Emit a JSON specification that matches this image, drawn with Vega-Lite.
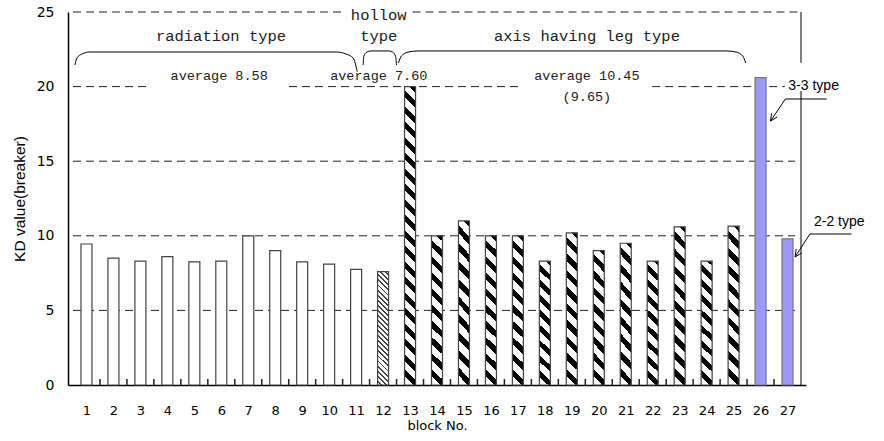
{
  "$schema": "https://vega.github.io/schema/vega-lite/v6.json",
  "width": 738,
  "height": 373,
  "autosize": {"type": "none"},
  "padding": {"left": 68, "top": 12, "right": 78, "bottom": 56},
  "background": "white",
  "config": {"view": {"stroke": null}},
  "datasets": {
    "bars": [
      {"block": 1, "kd": 9.45, "type": "radiation"},
      {"block": 2, "kd": 8.5, "type": "radiation"},
      {"block": 3, "kd": 8.3, "type": "radiation"},
      {"block": 4, "kd": 8.6, "type": "radiation"},
      {"block": 5, "kd": 8.25, "type": "radiation"},
      {"block": 6, "kd": 8.3, "type": "radiation"},
      {"block": 7, "kd": 10.0, "type": "radiation"},
      {"block": 8, "kd": 9.0, "type": "radiation"},
      {"block": 9, "kd": 8.25, "type": "radiation"},
      {"block": 10, "kd": 8.1, "type": "radiation"},
      {"block": 11, "kd": 7.75, "type": "radiation"},
      {"block": 12, "kd": 7.6, "type": "hollow"},
      {"block": 13, "kd": 20.0, "type": "axis"},
      {"block": 14, "kd": 10.0, "type": "axis"},
      {"block": 15, "kd": 11.0, "type": "axis"},
      {"block": 16, "kd": 10.0, "type": "axis"},
      {"block": 17, "kd": 10.0, "type": "axis"},
      {"block": 18, "kd": 8.3, "type": "axis"},
      {"block": 19, "kd": 10.2, "type": "axis"},
      {"block": 20, "kd": 9.0, "type": "axis"},
      {"block": 21, "kd": 9.5, "type": "axis"},
      {"block": 22, "kd": 8.3, "type": "axis"},
      {"block": 23, "kd": 10.6, "type": "axis"},
      {"block": 24, "kd": 8.3, "type": "axis"},
      {"block": 25, "kd": 10.65, "type": "axis"},
      {"block": 26, "kd": 20.6, "type": "3-3"},
      {"block": 27, "kd": 9.8, "type": "2-2"}
    ],
    "xticklines": [
      {"block": 1.5, "kd": 0, "kd2": 0.4}, {"block": 2.5, "kd": 0, "kd2": 0.4}, {"block": 3.5, "kd": 0, "kd2": 0.4},
      {"block": 4.5, "kd": 0, "kd2": 0.4}, {"block": 5.5, "kd": 0, "kd2": 0.4}, {"block": 6.5, "kd": 0, "kd2": 0.4},
      {"block": 7.5, "kd": 0, "kd2": 0.4}, {"block": 8.5, "kd": 0, "kd2": 0.4}, {"block": 9.5, "kd": 0, "kd2": 0.4},
      {"block": 10.5, "kd": 0, "kd2": 0.4}, {"block": 11.5, "kd": 0, "kd2": 0.4}, {"block": 12.5, "kd": 0, "kd2": 0.4},
      {"block": 13.5, "kd": 0, "kd2": 0.4}, {"block": 14.5, "kd": 0, "kd2": 0.4}, {"block": 15.5, "kd": 0, "kd2": 0.4},
      {"block": 16.5, "kd": 0, "kd2": 0.4}, {"block": 17.5, "kd": 0, "kd2": 0.4}, {"block": 18.5, "kd": 0, "kd2": 0.4},
      {"block": 19.5, "kd": 0, "kd2": 0.4}, {"block": 20.5, "kd": 0, "kd2": 0.4}, {"block": 21.5, "kd": 0, "kd2": 0.4},
      {"block": 22.5, "kd": 0, "kd2": 0.4}, {"block": 23.5, "kd": 0, "kd2": 0.4}, {"block": 24.5, "kd": 0, "kd2": 0.4},
      {"block": 25.5, "kd": 0, "kd2": 0.4}, {"block": 26.5, "kd": 0, "kd2": 0.4}
    ],
    "grid": [
      {"block": 0.5, "block2": 27.28, "kd": 5},
      {"block": 0.5, "block2": 27.28, "kd": 10},
      {"block": 0.5, "block2": 27.28, "kd": 15},
      {"block": 0.5, "block2": 3.24, "kd": 20},
      {"block": 8.51, "block2": 17.04, "kd": 20},
      {"block": 21.98, "block2": 26.9, "kd": 20},
      {"block": 0.5, "block2": 10.45, "kd": 25},
      {"block": 13.09, "block2": 27.5, "kd": 25}
    ],
    "border": [
      {"block": 27.5, "kd": 0, "kd2": 19.7},
      {"block": 27.5, "kd": 21.6, "kd2": 25}
    ],
    "braces": [
      {"brace": "radiation", "ord": 1, "block": 0.573, "kd": 21.45},
      {"brace": "radiation", "ord": 2, "block": 0.646, "kd": 21.92},
      {"brace": "radiation", "ord": 3, "block": 0.829, "kd": 22.18},
      {"brace": "radiation", "ord": 4, "block": 1.122, "kd": 22.32},
      {"brace": "radiation", "ord": 5, "block": 10.27, "kd": 22.32},
      {"brace": "radiation", "ord": 6, "block": 10.63, "kd": 22.18},
      {"brace": "radiation", "ord": 7, "block": 10.89, "kd": 21.92},
      {"brace": "radiation", "ord": 8, "block": 11.04, "kd": 21.0},
      {"brace": "hollow", "ord": 1, "block": 11.26, "kd": 21.45},
      {"brace": "hollow", "ord": 2, "block": 11.29, "kd": 22.05},
      {"brace": "hollow", "ord": 3, "block": 11.4, "kd": 22.32},
      {"brace": "hollow", "ord": 4, "block": 11.55, "kd": 22.39},
      {"brace": "hollow", "ord": 5, "block": 12.21, "kd": 22.39},
      {"brace": "hollow", "ord": 6, "block": 12.35, "kd": 22.32},
      {"brace": "hollow", "ord": 7, "block": 12.46, "kd": 22.05},
      {"brace": "hollow", "ord": 8, "block": 12.5, "kd": 21.45},
      {"brace": "axis", "ord": 1, "block": 12.57, "kd": 21.58},
      {"brace": "axis", "ord": 2, "block": 12.68, "kd": 22.05},
      {"brace": "axis", "ord": 3, "block": 12.94, "kd": 22.32},
      {"brace": "axis", "ord": 4, "block": 13.3, "kd": 22.39},
      {"brace": "axis", "ord": 5, "block": 24.72, "kd": 22.39},
      {"brace": "axis", "ord": 6, "block": 25.09, "kd": 22.32},
      {"brace": "axis", "ord": 7, "block": 25.34, "kd": 22.05},
      {"brace": "axis", "ord": 8, "block": 25.45, "kd": 21.58}
    ],
    "arrows": [
      {"seg": "a1", "ord": 1, "block": 28.45, "kd": 19.17},
      {"seg": "a1", "ord": 2, "block": 26.92, "kd": 19.17},
      {"seg": "a1", "ord": 3, "block": 26.37, "kd": 17.69},
      {"seg": "a1", "ord": 4, "block": 26.62, "kd": 17.97},
      {"seg": "a2", "ord": 1, "block": 26.37, "kd": 17.69},
      {"seg": "a2", "ord": 2, "block": 26.41, "kd": 18.22},
      {"seg": "b1", "ord": 1, "block": 29.37, "kd": 10.12},
      {"seg": "b1", "ord": 2, "block": 27.83, "kd": 10.12},
      {"seg": "b1", "ord": 3, "block": 27.28, "kd": 8.58},
      {"seg": "b1", "ord": 4, "block": 27.53, "kd": 8.85},
      {"seg": "b2", "ord": 1, "block": 27.28, "kd": 8.58},
      {"seg": "b2", "ord": 2, "block": 27.32, "kd": 9.11}
    ],
    "groupLabels": [
      {"label": "radiation type", "block": 5.99, "kd": 23.4},
      {"label": "hollow", "block": 11.84, "kd": 24.8},
      {"label": "type", "block": 11.84, "kd": 23.4},
      {"label": "axis having leg type", "block": 19.56, "kd": 23.4}
    ],
    "averages": [
      {"label": "average 8.58", "block": 5.92, "kd": 20.7},
      {"label": "average 7.60", "block": 11.84, "kd": 20.7},
      {"label": "average 10.45", "block": 19.56, "kd": 20.7},
      {"label": "(9.65)", "block": 19.56, "kd": 19.3}
    ],
    "typeLabels": [
      {"label": "3-3 type", "block": 27.03, "kd": 20.04},
      {"label": "2-2 type", "block": 27.98, "kd": 10.92}
    ]
  },
  "encoding": {
    "x": {
      "field": "block",
      "type": "quantitative",
      "scale": {"domain": [0.5, 27.5], "nice": false, "zero": false},
      "axis": {
        "title": "block No.",
        "values": [1,2,3,4,5,6,7,8,9,10,11,12,13,14,15,16,17,18,19,20,21,22,23,24,25,26,27],
        "ticks": false,
        "labelPadding": 19,
        "labelAngle": 0,
        "labelFont": "DejaVu Sans",
        "labelFontSize": 13,
        "labelColor": "black",
        "labelFlush": false,
        "labelOverlap": false,
        "grid": false,
        "domainColor": "black",
        "domainWidth": 1.5,
        "titleFont": "DejaVu Sans",
        "titleFontSize": 13,
        "titleFontWeight": "normal",
        "titleColor": "black",
        "titlePadding": 2
      }
    },
    "y": {
      "field": "kd",
      "type": "quantitative",
      "scale": {"domain": [0, 25], "nice": false},
      "axis": {
        "title": "KD value(breaker)",
        "values": [0, 5, 10, 15, 20, 25],
        "ticks": false,
        "labelPadding": 14,
        "labelFont": "DejaVu Sans",
        "labelFontSize": 14,
        "labelColor": "black",
        "grid": false,
        "domainColor": "black",
        "domainWidth": 1.5,
        "titleFont": "Liberation Sans",
        "titleFontSize": 15.5,
        "titleFontWeight": "normal",
        "titleColor": "black",
        "titlePadding": 9
      }
    }
  },
  "layer": [
    {
      "data": {"name": "grid"},
      "mark": {"type": "rule", "color": "#222", "strokeWidth": 1, "strokeDash": [8, 5]},
      "encoding": {"x2": {"field": "block2"}}
    },
    {
      "data": {"name": "border"},
      "mark": {"type": "rule", "color": "black", "strokeWidth": 1},
      "encoding": {"y2": {"field": "kd2"}}
    },
    {
      "data": {"name": "xticklines"},
      "mark": {"type": "rule", "color": "#222", "strokeWidth": 1.5},
      "encoding": {"y2": {"field": "kd2"}}
    },
    {
      "data": {"name": "bars"},
      "mark": {"type": "bar", "orient": "vertical", "size": 11, "strokeWidth": 1.2},
      "encoding": {
        "stroke": {
          "condition": {"test": "datum.type === '3-3' || datum.type === '2-2'", "value": "#777"},
          "value": "#444"
        },
        "fill": {
          "condition": [
            {"test": "datum.type === 'hollow'", "value": {"gradient": "linear", "x1": 0.107, "y1": -0.107, "x2": 0, "y2": 1, "stops": [
              {"offset": 0, "color": "#444"}, {"offset": 0.015, "color": "#444"}, {"offset": 0.015, "color": "#fff"}, {"offset": 0.04, "color": "#fff"},
              {"offset": 0.04, "color": "#444"}, {"offset": 0.055, "color": "#444"}, {"offset": 0.055, "color": "#fff"}, {"offset": 0.08, "color": "#fff"},
              {"offset": 0.08, "color": "#444"}, {"offset": 0.095, "color": "#444"}, {"offset": 0.095, "color": "#fff"}, {"offset": 0.12, "color": "#fff"},
              {"offset": 0.12, "color": "#444"}, {"offset": 0.135, "color": "#444"}, {"offset": 0.135, "color": "#fff"}, {"offset": 0.16, "color": "#fff"},
              {"offset": 0.16, "color": "#444"}, {"offset": 0.175, "color": "#444"}, {"offset": 0.175, "color": "#fff"}, {"offset": 0.2, "color": "#fff"},
              {"offset": 0.2, "color": "#444"}, {"offset": 0.215, "color": "#444"}, {"offset": 0.215, "color": "#fff"}, {"offset": 0.24, "color": "#fff"},
              {"offset": 0.24, "color": "#444"}, {"offset": 0.255, "color": "#444"}, {"offset": 0.255, "color": "#fff"}, {"offset": 0.28, "color": "#fff"},
              {"offset": 0.28, "color": "#444"}, {"offset": 0.295, "color": "#444"}, {"offset": 0.295, "color": "#fff"}, {"offset": 0.32, "color": "#fff"},
              {"offset": 0.32, "color": "#444"}, {"offset": 0.335, "color": "#444"}, {"offset": 0.335, "color": "#fff"}, {"offset": 0.36, "color": "#fff"},
              {"offset": 0.36, "color": "#444"}, {"offset": 0.375, "color": "#444"}, {"offset": 0.375, "color": "#fff"}, {"offset": 0.4, "color": "#fff"},
              {"offset": 0.4, "color": "#444"}, {"offset": 0.415, "color": "#444"}, {"offset": 0.415, "color": "#fff"}, {"offset": 0.44, "color": "#fff"},
              {"offset": 0.44, "color": "#444"}, {"offset": 0.455, "color": "#444"}, {"offset": 0.455, "color": "#fff"}, {"offset": 0.48, "color": "#fff"},
              {"offset": 0.48, "color": "#444"}, {"offset": 0.495, "color": "#444"}, {"offset": 0.495, "color": "#fff"}, {"offset": 0.52, "color": "#fff"},
              {"offset": 0.52, "color": "#444"}, {"offset": 0.535, "color": "#444"}, {"offset": 0.535, "color": "#fff"}, {"offset": 0.56, "color": "#fff"},
              {"offset": 0.56, "color": "#444"}, {"offset": 0.575, "color": "#444"}, {"offset": 0.575, "color": "#fff"}, {"offset": 0.6, "color": "#fff"},
              {"offset": 0.6, "color": "#444"}, {"offset": 0.615, "color": "#444"}, {"offset": 0.615, "color": "#fff"}, {"offset": 0.64, "color": "#fff"},
              {"offset": 0.64, "color": "#444"}, {"offset": 0.655, "color": "#444"}, {"offset": 0.655, "color": "#fff"}, {"offset": 0.68, "color": "#fff"},
              {"offset": 0.68, "color": "#444"}, {"offset": 0.695, "color": "#444"}, {"offset": 0.695, "color": "#fff"}, {"offset": 0.72, "color": "#fff"},
              {"offset": 0.72, "color": "#444"}, {"offset": 0.735, "color": "#444"}, {"offset": 0.735, "color": "#fff"}, {"offset": 0.76, "color": "#fff"},
              {"offset": 0.76, "color": "#444"}, {"offset": 0.775, "color": "#444"}, {"offset": 0.775, "color": "#fff"}, {"offset": 0.8, "color": "#fff"},
              {"offset": 0.8, "color": "#444"}, {"offset": 0.815, "color": "#444"}, {"offset": 0.815, "color": "#fff"}, {"offset": 0.84, "color": "#fff"},
              {"offset": 0.84, "color": "#444"}, {"offset": 0.855, "color": "#444"}, {"offset": 0.855, "color": "#fff"}, {"offset": 0.88, "color": "#fff"},
              {"offset": 0.88, "color": "#444"}, {"offset": 0.895, "color": "#444"}, {"offset": 0.895, "color": "#fff"}, {"offset": 0.92, "color": "#fff"},
              {"offset": 0.92, "color": "#444"}, {"offset": 0.935, "color": "#444"}, {"offset": 0.935, "color": "#fff"}, {"offset": 0.96, "color": "#fff"},
              {"offset": 0.96, "color": "#444"}, {"offset": 0.975, "color": "#444"}, {"offset": 0.975, "color": "#fff"}, {"offset": 1, "color": "#fff"}
            ]}},
            {"test": "datum.type === 'axis' && datum.kd > 15", "value": {"gradient": "linear", "x1": 0.0384, "y1": -0.0384, "x2": 0, "y2": 1, "stops": [
              {"offset": 0, "color": "#000"}, {"offset": 0.0225, "color": "#000"}, {"offset": 0.0225, "color": "#fff"}, {"offset": 0.05, "color": "#fff"},
              {"offset": 0.05, "color": "#000"}, {"offset": 0.0725, "color": "#000"}, {"offset": 0.0725, "color": "#fff"}, {"offset": 0.1, "color": "#fff"},
              {"offset": 0.1, "color": "#000"}, {"offset": 0.1225, "color": "#000"}, {"offset": 0.1225, "color": "#fff"}, {"offset": 0.15, "color": "#fff"},
              {"offset": 0.15, "color": "#000"}, {"offset": 0.1725, "color": "#000"}, {"offset": 0.1725, "color": "#fff"}, {"offset": 0.2, "color": "#fff"},
              {"offset": 0.2, "color": "#000"}, {"offset": 0.2225, "color": "#000"}, {"offset": 0.2225, "color": "#fff"}, {"offset": 0.25, "color": "#fff"},
              {"offset": 0.25, "color": "#000"}, {"offset": 0.2725, "color": "#000"}, {"offset": 0.2725, "color": "#fff"}, {"offset": 0.3, "color": "#fff"},
              {"offset": 0.3, "color": "#000"}, {"offset": 0.3225, "color": "#000"}, {"offset": 0.3225, "color": "#fff"}, {"offset": 0.35, "color": "#fff"},
              {"offset": 0.35, "color": "#000"}, {"offset": 0.3725, "color": "#000"}, {"offset": 0.3725, "color": "#fff"}, {"offset": 0.4, "color": "#fff"},
              {"offset": 0.4, "color": "#000"}, {"offset": 0.4225, "color": "#000"}, {"offset": 0.4225, "color": "#fff"}, {"offset": 0.45, "color": "#fff"},
              {"offset": 0.45, "color": "#000"}, {"offset": 0.4725, "color": "#000"}, {"offset": 0.4725, "color": "#fff"}, {"offset": 0.5, "color": "#fff"},
              {"offset": 0.5, "color": "#000"}, {"offset": 0.5225, "color": "#000"}, {"offset": 0.5225, "color": "#fff"}, {"offset": 0.55, "color": "#fff"},
              {"offset": 0.55, "color": "#000"}, {"offset": 0.5725, "color": "#000"}, {"offset": 0.5725, "color": "#fff"}, {"offset": 0.6, "color": "#fff"},
              {"offset": 0.6, "color": "#000"}, {"offset": 0.6225, "color": "#000"}, {"offset": 0.6225, "color": "#fff"}, {"offset": 0.65, "color": "#fff"},
              {"offset": 0.65, "color": "#000"}, {"offset": 0.6725, "color": "#000"}, {"offset": 0.6725, "color": "#fff"}, {"offset": 0.7, "color": "#fff"},
              {"offset": 0.7, "color": "#000"}, {"offset": 0.7225, "color": "#000"}, {"offset": 0.7225, "color": "#fff"}, {"offset": 0.75, "color": "#fff"},
              {"offset": 0.75, "color": "#000"}, {"offset": 0.7725, "color": "#000"}, {"offset": 0.7725, "color": "#fff"}, {"offset": 0.8, "color": "#fff"},
              {"offset": 0.8, "color": "#000"}, {"offset": 0.8225, "color": "#000"}, {"offset": 0.8225, "color": "#fff"}, {"offset": 0.85, "color": "#fff"},
              {"offset": 0.85, "color": "#000"}, {"offset": 0.8725, "color": "#000"}, {"offset": 0.8725, "color": "#fff"}, {"offset": 0.9, "color": "#fff"},
              {"offset": 0.9, "color": "#000"}, {"offset": 0.9225, "color": "#000"}, {"offset": 0.9225, "color": "#fff"}, {"offset": 0.95, "color": "#fff"},
              {"offset": 0.95, "color": "#000"}, {"offset": 0.9725, "color": "#000"}, {"offset": 0.9725, "color": "#fff"}, {"offset": 1, "color": "#fff"}
            ]}},
            {"test": "datum.type === 'axis' && datum.kd >= 9.9", "value": {"gradient": "linear", "x1": 0.0764, "y1": -0.0764, "x2": 0, "y2": 1, "stops": [
              {"offset": 0, "color": "#000"}, {"offset": 0.045, "color": "#000"}, {"offset": 0.045, "color": "#fff"}, {"offset": 0.1, "color": "#fff"},
              {"offset": 0.1, "color": "#000"}, {"offset": 0.145, "color": "#000"}, {"offset": 0.145, "color": "#fff"}, {"offset": 0.2, "color": "#fff"},
              {"offset": 0.2, "color": "#000"}, {"offset": 0.245, "color": "#000"}, {"offset": 0.245, "color": "#fff"}, {"offset": 0.3, "color": "#fff"},
              {"offset": 0.3, "color": "#000"}, {"offset": 0.345, "color": "#000"}, {"offset": 0.345, "color": "#fff"}, {"offset": 0.4, "color": "#fff"},
              {"offset": 0.4, "color": "#000"}, {"offset": 0.445, "color": "#000"}, {"offset": 0.445, "color": "#fff"}, {"offset": 0.5, "color": "#fff"},
              {"offset": 0.5, "color": "#000"}, {"offset": 0.545, "color": "#000"}, {"offset": 0.545, "color": "#fff"}, {"offset": 0.6, "color": "#fff"},
              {"offset": 0.6, "color": "#000"}, {"offset": 0.645, "color": "#000"}, {"offset": 0.645, "color": "#fff"}, {"offset": 0.7, "color": "#fff"},
              {"offset": 0.7, "color": "#000"}, {"offset": 0.745, "color": "#000"}, {"offset": 0.745, "color": "#fff"}, {"offset": 0.8, "color": "#fff"},
              {"offset": 0.8, "color": "#000"}, {"offset": 0.845, "color": "#000"}, {"offset": 0.845, "color": "#fff"}, {"offset": 0.9, "color": "#fff"},
              {"offset": 0.9, "color": "#000"}, {"offset": 0.945, "color": "#000"}, {"offset": 0.945, "color": "#fff"}, {"offset": 1, "color": "#fff"}
            ]}},
            {"test": "datum.type === 'axis'", "value": {"gradient": "linear", "x1": 0.0929, "y1": -0.0929, "x2": 0, "y2": 1, "stops": [
              {"offset": 0, "color": "#000"}, {"offset": 0.05, "color": "#000"}, {"offset": 0.05, "color": "#fff"}, {"offset": 0.1111, "color": "#fff"},
              {"offset": 0.1111, "color": "#000"}, {"offset": 0.1611, "color": "#000"}, {"offset": 0.1611, "color": "#fff"}, {"offset": 0.2222, "color": "#fff"},
              {"offset": 0.2222, "color": "#000"}, {"offset": 0.2722, "color": "#000"}, {"offset": 0.2722, "color": "#fff"}, {"offset": 0.3333, "color": "#fff"},
              {"offset": 0.3333, "color": "#000"}, {"offset": 0.3833, "color": "#000"}, {"offset": 0.3833, "color": "#fff"}, {"offset": 0.4444, "color": "#fff"},
              {"offset": 0.4444, "color": "#000"}, {"offset": 0.4944, "color": "#000"}, {"offset": 0.4944, "color": "#fff"}, {"offset": 0.5556, "color": "#fff"},
              {"offset": 0.5556, "color": "#000"}, {"offset": 0.6056, "color": "#000"}, {"offset": 0.6056, "color": "#fff"}, {"offset": 0.6667, "color": "#fff"},
              {"offset": 0.6667, "color": "#000"}, {"offset": 0.7167, "color": "#000"}, {"offset": 0.7167, "color": "#fff"}, {"offset": 0.7778, "color": "#fff"},
              {"offset": 0.7778, "color": "#000"}, {"offset": 0.8278, "color": "#000"}, {"offset": 0.8278, "color": "#fff"}, {"offset": 0.8889, "color": "#fff"},
              {"offset": 0.8889, "color": "#000"}, {"offset": 0.9389, "color": "#000"}, {"offset": 0.9389, "color": "#fff"}, {"offset": 1, "color": "#fff"}
            ]}},
            {"test": "datum.type === '3-3' || datum.type === '2-2'", "value": "#9999ff"}
          ],
          "value": "white"
        }
      }
    },
    {
      "data": {"name": "braces"},
      "mark": {"type": "line", "color": "black", "strokeWidth": 1, "interpolate": "monotone"},
      "encoding": {"detail": {"field": "brace"}, "order": {"field": "ord"}}
    },
    {
      "data": {"name": "arrows"},
      "mark": {"type": "line", "color": "black", "strokeWidth": 1},
      "encoding": {"detail": {"field": "seg"}, "order": {"field": "ord"}}
    },
    {
      "data": {"name": "groupLabels"},
      "mark": {"type": "text", "font": "Liberation Mono", "fontSize": 15.5, "color": "#222", "align": "center", "baseline": "middle"},
      "encoding": {"text": {"field": "label"}}
    },
    {
      "data": {"name": "averages"},
      "mark": {"type": "text", "font": "Liberation Mono", "fontSize": 13.5, "color": "#222", "align": "center", "baseline": "middle"},
      "encoding": {"text": {"field": "label"}}
    },
    {
      "data": {"name": "typeLabels"},
      "mark": {"type": "text", "font": "Liberation Sans", "fontSize": 14, "color": "black", "align": "left", "baseline": "middle"},
      "encoding": {"text": {"field": "label"}}
    }
  ]
}
